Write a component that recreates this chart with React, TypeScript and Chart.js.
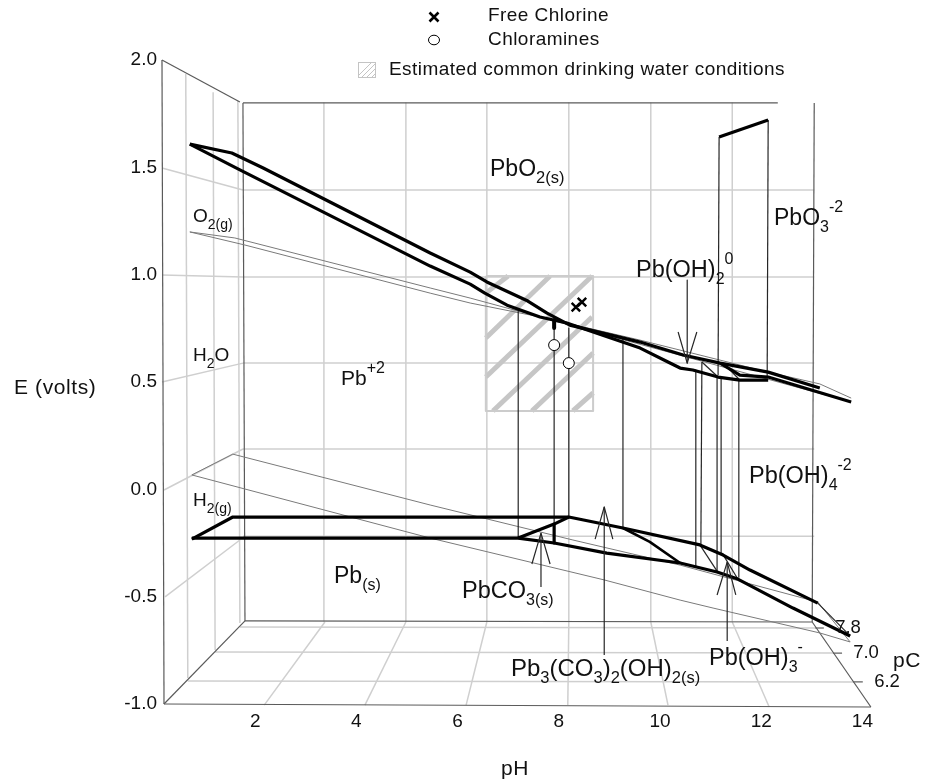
import React, { useEffect, useRef } from "react";
import { Chart, registerables } from "chart.js";

Chart.register(...registerables);

type P = [number, number];

const FONT = '"Liberation Sans", Arial, sans-serif';

// ---- axis values
const pHTicks = [2, 4, 6, 8, 10, 12, 14];
const eTicks = [-1, -0.5, 0, 0.5, 1, 1.5, 2];
const pCTickLabels = ["7.8", "7.0", "6.2"];

// ---- 3D box frame, read as [pH, E] on the front axes
const frameLines: P[][] = [
  [[-0.02, 2.0], [0.02, -1.0]],
  [[-0.02, 2.0], [1.52, 1.804]],
  [[1.58, 1.8], [12.15, 1.8]],
  [[1.58, 1.8], [1.62, -0.613]],
  [[12.87, 1.8], [12.83, -0.618]],
  [[0.02, -1.0], [1.62, -0.613]],
  [[0.02, -1.0], [13.99, -1.014]],
  [[12.83, -0.618], [13.99, -1.014]],
  [[1.62, -0.613], [12.83, -0.618]],
  [[12.89, -0.646], [13.06, -0.646]],
  [[13.24, -0.763], [13.42, -0.763]],
  [[13.64, -0.897], [13.83, -0.897]],
];

const gridLines: P[][] = [
  // back wall, pH
  [[3.18, 1.8], [3.18, -0.613]],
  [[4.8, 1.8], [4.8, -0.613]],
  [[6.4, 1.8], [6.4, -0.613]],
  [[8.02, 1.8], [8.02, -0.613]],
  [[9.64, 1.8], [9.64, -0.613]],
  [[11.25, 1.8], [11.25, -0.613]],
  // back wall, E
  [[1.58, 1.394], [12.87, 1.394]],
  [[1.58, 0.989], [12.87, 0.989]],
  [[1.58, 0.588], [12.87, 0.588]],
  [[1.58, 0.188], [12.87, 0.188]],
  [[1.58, -0.218], [12.87, -0.218]],
  // side wall, pC
  [[0.45, 1.935], [0.49, -0.879]],
  [[0.99, 1.85], [1.03, -0.749]],
  [[1.48, 1.81], [1.52, -0.623]],
  // side wall, E
  [[-0.02, 1.497], [1.58, 1.394]],
  [[-0.02, 0.998], [1.58, 0.989]],
  [[-0.02, 0.5], [1.58, 0.588]],
  [[0.02, -0.003], [1.58, 0.188]],
  [[0.04, -0.501], [1.52, -0.236]],
  // floor, pH
  [[3.2, -0.618], [2.0, -1.005]],
  [[4.8, -0.618], [3.99, -1.005]],
  [[6.4, -0.618], [5.99, -1.005]],
  [[8.02, -0.618], [8.0, -1.005]],
  [[9.64, -0.618], [9.98, -1.005]],
  [[11.25, -0.618], [11.98, -1.014]],
  // floor, pC
  [[1.52, -0.641], [12.89, -0.646]],
  [[1.03, -0.758], [13.24, -0.763]],
  [[0.49, -0.893], [13.64, -0.897]],
];

// ---- water stability limits
const oxygenUpper: P[] = [[0.53, 1.199], [1.42, 1.171], [5.28, 0.938], [6.07, 0.891], [7.45, 0.803], [9.43, 0.695], [11.96, 0.546], [12.98, 0.491], [13.6, 0.425]];
const oxygenLower: P[] = [[0.53, 1.199], [1.62, 1.138], [5.28, 0.914], [6.07, 0.868], [7.45, 0.803], [13.6, 0.407]];
const hydrogenUpper: P[] = [[0.57, 0.067], [1.38, 0.164], [5.28, -0.073], [8.1, -0.236], [10.22, -0.353], [12.94, -0.525], [13.58, -0.711]];
const hydrogenLower: P[] = [[0.57, 0.067], [5.28, -0.227], [8.72, -0.422], [10.22, -0.516], [10.87, -0.553], [12.98, -0.669], [13.58, -0.711]];

// ---- stability field boundaries, heavy lines
const upperBack: P[] = [[0.53, 1.608], [1.36, 1.567], [1.98, 1.497], [5.28, 1.101], [6.07, 1.012], [6.4, 0.966], [7.21, 0.877], [7.59, 0.821], [8.04, 0.765], [9.43, 0.686], [10.28, 0.626], [11.01, 0.588], [11.96, 0.546], [12.98, 0.472]];
const upperMiddle: P[] = [[0.53, 1.608], [1.52, 1.488], [5.28, 1.04], [6.07, 0.956], [6.36, 0.914], [6.8, 0.858], [7.45, 0.803], [7.98, 0.775], [9.43, 0.658], [9.98, 0.593], [10.22, 0.565], [10.47, 0.556], [10.97, 0.523], [11.4, 0.509], [11.96, 0.509]];
const upperFront: P[] = [[11.01, 0.588], [11.4, 0.532], [11.96, 0.523], [13.6, 0.407]];
const upperTop: P[] = [[10.99, 1.641], [11.96, 1.72]];
const upperDot: P[] = [[7.73, 0.789], [7.73, 0.751]];

const lowerBack: P[] = [[0.57, -0.232], [1.38, -0.129], [8.02, -0.129], [9.09, -0.18], [10.61, -0.259], [11.07, -0.306], [11.6, -0.376], [12.94, -0.53]];
const lowerFront: P[] = [[0.57, -0.227], [7.02, -0.227], [7.73, -0.25], [8.77, -0.297], [10.22, -0.343], [10.95, -0.385], [11.36, -0.418], [12.45, -0.553], [13.58, -0.683]];
const lowerWedge: P[] = [[7.02, -0.227], [7.73, -0.162], [8.02, -0.129]];
const lowerStep: P[] = [[7.73, -0.162], [7.73, -0.25]];
const lowerBranch: P[] = [[9.09, -0.18], [9.62, -0.245], [10.22, -0.343]];

// ---- thin connecting lines
const connectors: P[][] = [
  [[7.02, 0.835], [7.02, -0.227]],
  [[7.73, 0.775], [7.73, -0.162]],
  [[8.02, 0.751], [8.02, -0.129]],
  [[9.09, 0.705], [9.09, -0.18]],
  [[10.53, 0.556], [10.53, -0.362]],
  [[10.65, 0.593], [10.63, -0.259]],
  [[10.99, 1.641], [10.97, 0.532]],
  [[10.95, 0.523], [10.95, -0.381]],
  [[11.03, 0.523], [11.03, -0.297]],
  [[11.38, 0.514], [11.38, -0.409]],
  [[11.96, 1.72], [11.94, 0.523]],
  [[10.65, 0.593], [10.97, 0.523]],
  [[11.11, 0.579], [11.38, 0.514]],
  [[10.61, -0.259], [10.95, -0.381]],
  [[11.05, -0.297], [11.36, -0.418]],
  [[12.94, -0.53], [13.58, -0.683]],
];

// ---- label arrows
const arrows: P[][] = [
  [[10.36, 0.975], [10.36, 0.588]],
  [[10.18, 0.733], [10.36, 0.588], [10.55, 0.733]],
  [[7.47, -0.455], [7.47, -0.204]],
  [[7.29, -0.348], [7.47, -0.204], [7.65, -0.348]],
  [[8.72, -0.772], [8.72, -0.082]],
  [[8.54, -0.232], [8.72, -0.082], [8.89, -0.232]],
  [[11.15, -0.707], [11.15, -0.339]],
  [[10.95, -0.492], [11.15, -0.339], [11.32, -0.492]],
];

// ---- estimated drinking water region
const regionBox: P[] = [[6.38, 0.994], [8.5, 0.994], [8.5, 0.365], [6.38, 0.365], [6.38, 0.994]];
const regionHatch: P[][] = [
  [[6.38, 0.914], [6.82, 0.994]],
  [[6.38, 0.705], [7.65, 0.994]],
  [[6.38, 0.523], [8.48, 0.994]],
  [[6.52, 0.365], [8.48, 0.803]],
  [[7.29, 0.365], [8.5, 0.635]],
  [[8.1, 0.365], [8.5, 0.449]],
];

// ---- sample points
const freeChlorine: P[] = [[8.16, 0.849], [8.28, 0.872]];
const chloramines: P[] = [[7.73, 0.672], [8.02, 0.588]];

const legendLabels = ["Free Chlorine", "Chloramines", "Estimated common drinking water conditions"];

// ---- chemical labels: text, then n / b(sub) / p(sup) piece kinds
type Part = [string, "n" | "b" | "p"];
interface Lab { parts: Part[]; x: number; y: number; size: number; sub: number }
const chemLabels: Lab[] = [
  { parts: [["PbO", "n"], ["2(s)", "b"]], x: 490, y: 176, size: 23, sub: 16.5 },
  { parts: [["Pb(OH)", "n"], ["2", "b"], ["0", "p"]], x: 636, y: 277, size: 23.5, sub: 16 },
  { parts: [["PbO", "n"], ["3", "b"], ["-2", "p"]], x: 774, y: 225, size: 23, sub: 16 },
  { parts: [["O", "n"], ["2(g)", "b"]], x: 193, y: 222, size: 19, sub: 14 },
  { parts: [["H", "n"], ["2", "b"], ["O", "n"]], x: 193, y: 361, size: 19, sub: 14 },
  { parts: [["Pb", "n"], ["+2", "p"]], x: 341, y: 385, size: 21, sub: 16 },
  { parts: [["H", "n"], ["2(g)", "b"]], x: 193, y: 506, size: 19, sub: 14 },
  { parts: [["Pb", "n"], ["(s)", "b"]], x: 334, y: 583, size: 23, sub: 16 },
  { parts: [["PbCO", "n"], ["3(s)", "b"]], x: 462, y: 598, size: 23.5, sub: 16 },
  { parts: [["Pb", "n"], ["3", "b"], ["(CO", "n"], ["3", "b"], [")", "n"], ["2", "b"], ["(OH)", "n"], ["2(s)", "b"]], x: 511, y: 676, size: 24, sub: 16.5 },
  { parts: [["Pb(OH)", "n"], ["3", "b"], ["-", "p"]], x: 709, y: 665, size: 23.5, sub: 16 },
  { parts: [["Pb(OH)", "n"], ["4", "b"], ["-2", "p"]], x: 749, y: 483, size: 23.5, sub: 16 },
];

function line(pts: P[], color: string, width: number) {
  return {
    type: "scatter" as const,
    data: pts.map(([x, y]) => ({ x, y })),
    showLine: true,
    borderColor: color,
    borderWidth: width,
    pointRadius: 0,
    fill: false,
    tension: 0,
    clip: false as const,
    borderJoinStyle: "round" as const,
  };
}

const overlayPlugin = {
  id: "overlay",
  afterDraw(chart: any) {
    const ctx: CanvasRenderingContext2D = chart.ctx;
    const font = (s: number) => `${s}px ${FONT}`;
    ctx.save();
    ctx.fillStyle = "#111";
    ctx.textBaseline = "alphabetic";
    ctx.textAlign = "left";

    // chemical labels
    for (const l of chemLabels) {
      let x = l.x;
      for (const [t, k] of l.parts) {
        const s = k === "n" ? l.size : l.sub;
        ctx.font = font(s);
        const dy = k === "b" ? 7 : k === "p" ? -l.size * 0.55 : 0;
        ctx.fillText(t, x, l.y + dy);
        x += ctx.measureText(t).width;
      }
    }

    // axis titles
    ctx.font = font(21);
    (ctx as any).letterSpacing = "0.6px";
    ctx.fillText("E (volts)", 14, 394);
    ctx.fillText("pH", 501, 775);
    ctx.fillText("pC", 893, 667);
    (ctx as any).letterSpacing = "0px";

    // pC ticks
    ctx.font = font(18.5);
    ctx.textAlign = "center";
    ctx.textBaseline = "middle";
    ctx.fillText(pCTickLabels[0], 848, 628);
    ctx.fillText(pCTickLabels[1], 866, 653);
    ctx.fillText(pCTickLabels[2], 887, 682);

    // legend
    ctx.textAlign = "left";
    ctx.font = font(19);
    (ctx as any).letterSpacing = "0.45px";
    ctx.fillText(legendLabels[0], 488, 16);
    ctx.fillText(legendLabels[1], 488, 40);
    ctx.fillText(legendLabels[2], 389, 70);
    (ctx as any).letterSpacing = "0px";

    ctx.strokeStyle = "#000";
    ctx.lineWidth = 2.6;
    ctx.beginPath();
    ctx.moveTo(429.5, 12.5); ctx.lineTo(438.5, 21.5);
    ctx.moveTo(438.5, 12.5); ctx.lineTo(429.5, 21.5);
    ctx.stroke();
    ctx.lineWidth = 1;
    ctx.beginPath();
    ctx.ellipse(434, 40, 5.5, 4.8, 0, 0, Math.PI * 2);
    ctx.stroke();

    ctx.strokeStyle = "#c4c4c4";
    ctx.lineWidth = 1;
    ctx.strokeRect(358.5, 62.5, 17, 15);
    ctx.save();
    ctx.beginPath();
    ctx.rect(359, 63, 16, 14);
    ctx.clip();
    ctx.beginPath();
    for (let i = 0; i < 6; i++) {
      const o = 358 + i * 5;
      ctx.moveTo(o - 2, 78);
      ctx.lineTo(o + 14, 62);
    }
    ctx.stroke();
    ctx.restore();
    ctx.restore();
  },
};

export default function App() {
  const ref = useRef<HTMLCanvasElement>(null);
  useEffect(() => {
    if (!ref.current) return;
    const GRID = "#cfcfcf";
    const FRAME = "#5a5a5a";
    const WATER = "#7a7a7a";
    const HEAVY = "#000";
    const bottomToTop: any[] = [
      ...gridLines.map((g) => line(g, GRID, 1.5)),
      ...regionHatch.map((g) => line(g, "#c6c6c6", 5)),
      line(regionBox, "#cccccc", 2),
      ...frameLines.map((g) => line(g, FRAME, 1.2)),
      line(oxygenUpper, WATER, 1),
      line(oxygenLower, WATER, 1),
      line(hydrogenUpper, WATER, 1),
      line(hydrogenLower, WATER, 1),
      ...connectors.map((g) => line(g, "#262626", 1.2)),
      line(upperBack, HEAVY, 3.2),
      line(upperMiddle, HEAVY, 3.2),
      line(upperFront, HEAVY, 3.2),
      line(upperTop, HEAVY, 3.2),
      line(upperDot, HEAVY, 4),
      line(lowerBack, HEAVY, 3.2),
      line(lowerFront, HEAVY, 3.2),
      line(lowerWedge, HEAVY, 3.2),
      line(lowerStep, HEAVY, 3.2),
      line(lowerBranch, HEAVY, 2.6),
      ...arrows.map((g) => line(g, "#262626", 1.2)),
      {
        type: "scatter",
        data: freeChlorine.map(([x, y]) => ({ x, y })),
        pointStyle: "crossRot",
        pointRadius: 6,
        pointBorderColor: "#000",
        pointBorderWidth: 2.4,
        clip: false,
      },
      {
        type: "scatter",
        data: chloramines.map(([x, y]) => ({ x, y })),
        pointStyle: "circle",
        pointRadius: 5.5,
        pointBackgroundColor: "#fff",
        pointBorderColor: "#000",
        pointBorderWidth: 1,
        clip: false,
      },
    ];
    const chart = new Chart(ref.current, {
      type: "scatter",
      data: { datasets: bottomToTop.reverse() },
      plugins: [overlayPlugin],
      options: {
        animation: false,
        responsive: false,
        layout: { padding: { top: 60, right: 53.6, left: 0, bottom: 0 } },
        plugins: { legend: { display: false }, tooltip: { enabled: false } },
        scales: {
          x: {
            type: "linear",
            min: 0,
            max: 14,
            afterFit: (s: any) => { s.height = 78; },
            afterBuildTicks: (s: any) => { s.ticks = pHTicks.map((value) => ({ value })); },
            grid: { display: false, drawTicks: false },
            border: { display: false },
            ticks: {
              padding: 6,
              labelOffset: -9,
              maxRotation: 0,
              autoSkip: false,
              color: "#111",
              font: { family: FONT, size: 19 },
              callback: (v: any) => String(v),
            },
          },
          y: {
            type: "linear",
            min: -1,
            max: 2,
            afterFit: (s: any) => { s.width = 163; },
            afterBuildTicks: (s: any) => { s.ticks = eTicks.map((value) => ({ value })); },
            grid: { display: false, drawTicks: false },
            border: { display: false },
            ticks: {
              padding: 6,
              autoSkip: false,
              color: "#111",
              font: { family: FONT, size: 19 },
              callback: (v: any) => Number(v).toFixed(1),
            },
          },
        },
      },
    } as any);
    return () => chart.destroy();
  }, []);
  return (
    <div style={{ position: "absolute", left: 0, top: 0, width: 925, height: 782 }}>
      <canvas ref={ref} width={925} height={782} style={{ display: "block", width: 925, height: 782 }} />
    </div>
  );
}
